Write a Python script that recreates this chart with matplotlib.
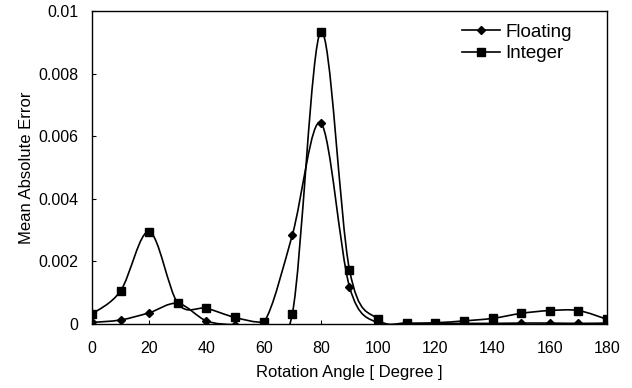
import matplotlib
matplotlib.use("Agg")
import matplotlib.pyplot as plt
from matplotlib.path import Path
from matplotlib.patches import PathPatch
from matplotlib.lines import Line2D
import numpy as np

plt.rcParams['font.family'] = ['Liberation Sans', 'DejaVu Sans']

# Data
angles = [0, 10, 20, 30, 40, 50, 60, 70, 80, 90, 100, 110, 120, 130, 140, 150, 160, 170, 180]
floating = [0.00005, 0.00013, 0.00036, 0.00066, 0.0001, -0.00002, 0.00003, 0.00284, 0.00642,
            0.00119, 0.00002, 0.00002, 0.00002, 0.00002, 0.00002, 0.00003, 0.00003, 0.00002, 0.00003]
integer = [0.00032, 0.00106, 0.00295, 0.00066, 0.0005, 0.00021, 0.00006, 0.00032, 0.00934,
           0.00173, 0.00015, 0.00003, 0.00004, 0.0001, 0.00018, 0.00034, 0.00043, 0.00043, 0.00015]


# Smoothed line (Excel-like) through the points using cubic Bezier segments
def smooth_path(x, y):
    pts = np.column_stack([x, y]).astype(float)
    n = len(pts)
    verts = [pts[0]]
    codes = [Path.MOVETO]
    for i in range(n - 1):
        p0 = pts[i - 1] if i > 0 else pts[i]
        p1 = pts[i]
        p2 = pts[i + 1]
        p3 = pts[i + 2] if i + 2 < n else pts[i + 1]
        c1 = p1 + (p2 - p0) / 6.0
        c2 = p2 - (p3 - p1) / 6.0
        verts += [c1, c2, p2]
        codes += [Path.CURVE4] * 3
    return Path(verts, codes)


fig = plt.figure(figsize=(6.32, 3.88), dpi=100)
ax = fig.add_axes([0.1456, 0.1649, 0.8148, 0.8067])

for vals, mk, ms in [(floating, 'D', 4.5), (integer, 's', 6)]:
    ax.add_patch(PathPatch(smooth_path(angles, vals), fill=False, lw=1.2, edgecolor='black'))
    ax.plot(angles, vals, ls='none', marker=mk, ms=ms, color='black')

ax.set_xlim(0, 180)
ax.set_ylim(0, 0.01)
ax.set_xticks(range(0, 181, 20))
ax.set_yticks([0, 0.002, 0.004, 0.006, 0.008, 0.01])
ax.set_yticklabels(['0', '0.002', '0.004', '0.006', '0.008', '0.01'])
ax.tick_params(direction='in', length=3, labelsize=11.5)
ax.tick_params(axis='x', pad=12)
ax.tick_params(axis='y', pad=10)
ax.set_xlabel('Rotation Angle [ Degree ]', fontsize=12, labelpad=7)
ax.set_ylabel('Mean Absolute Error', fontsize=12, labelpad=3)
for s in ax.spines.values():
    s.set_linewidth(1.0)

handles = [Line2D([], [], color='black', lw=1.2, marker='D', ms=4.5),
           Line2D([], [], color='black', lw=1.2, marker='s', ms=6)]
ax.legend(handles, ['Floating', 'Integer'], loc='upper right', frameon=False,
          fontsize=13.5, handlelength=2.0, handletextpad=0.3, borderaxespad=0.1,
          labelspacing=0.25, bbox_to_anchor=(0.95, 0.99))

fig.savefig('out.png', dpi=100)
